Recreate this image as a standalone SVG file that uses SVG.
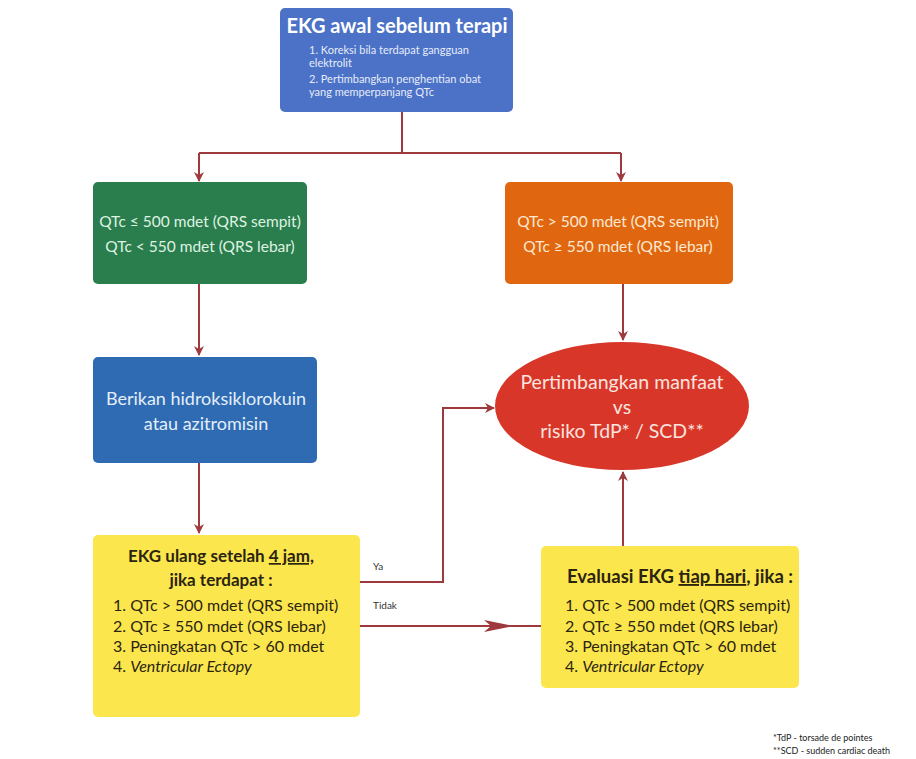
<svg xmlns="http://www.w3.org/2000/svg" width="916" height="759" viewBox="0 0 916 759">
<defs>
<marker id="ah" viewBox="0 0 10 10" refX="9" refY="5" markerWidth="5" markerHeight="5" orient="auto" markerUnits="strokeWidth">
<path d="M0,0 L10,5 L0,10 L3,5 z" fill="#9e3a3e"/>
</marker>
<style>
text{font-family:Lato,"Open Sans","Liberation Sans",sans-serif}
.c{fill:none;stroke:#9e3a3e;stroke-width:2}
.w{fill:#ffffff}
.k{fill:#2b2410}
.b{font-weight:bold}
.u{text-decoration:underline}
</style>
</defs>
<rect width="916" height="759" fill="#ffffff"/>
<g id="connectors">
<path class="c" d="M402,112 V153 M199,153 H621"/>
<path class="c" d="M199,153 V181" marker-end="url(#ah)"/>
<path class="c" d="M621,153 V181" marker-end="url(#ah)"/>
<path class="c" d="M199,284 V355" marker-end="url(#ah)"/>
<path class="c" d="M199,463 V533" marker-end="url(#ah)"/>
<path class="c" d="M623,284 V340" marker-end="url(#ah)"/>
<path class="c" d="M623,546 V472" marker-end="url(#ah)"/>
<path class="c" d="M360,582 H443 V408 H494" marker-end="url(#ah)"/>
<path class="c" d="M360,626 H541"/>
<path d="M484,620 L514,626 L484,632 L491,626 z" fill="#9e3a3e"/>
<text x="373" y="570" font-size="10" fill="#333">Ya</text>
<text x="373" y="609" font-size="10" fill="#333">Tidak</text>
</g>
<g id="n-start">
<rect x="280" y="8" width="233" height="104" rx="5" fill="#4b72c6"/>
<text x="397" y="33" font-size="20" text-anchor="middle" class="w b">EKG awal sebelum terapi</text>
<text x="309" y="54" font-size="11" fill="#e6ecfa">1. Koreksi bila terdapat gangguan</text>
<text x="309" y="67" font-size="11" fill="#e6ecfa">elektrolit</text>
<text x="309" y="83" font-size="11" fill="#e6ecfa">2. Pertimbangkan penghentian obat</text>
<text x="309" y="96" font-size="11" fill="#e6ecfa">yang memperpanjang QTc</text>
</g>
<g id="n-green">
<rect x="93" y="182" width="214" height="102" rx="5" fill="#2a7d4c"/>
<text x="200" y="227" font-size="15.5" text-anchor="middle" fill="#dff3e2">QTc ≤ 500 mdet (QRS sempit)</text>
<text x="200" y="252" font-size="15.5" text-anchor="middle" fill="#dff3e2">QTc &lt; 550 mdet (QRS lebar)</text>
</g>
<g id="n-orange">
<rect x="505" y="182" width="228" height="102" rx="5" fill="#e0670f"/>
<text x="618" y="227" font-size="15.5" text-anchor="middle" fill="#fde8d2">QTc &gt; 500 mdet (QRS sempit)</text>
<text x="618" y="252" font-size="15.5" text-anchor="middle" fill="#fde8d2">QTc ≥ 550 mdet (QRS lebar)</text>
</g>
<g id="n-give">
<rect x="93" y="357" width="224" height="106" rx="5" fill="#2f6bb2"/>
<text x="206" y="405" font-size="18" text-anchor="middle" fill="#e4eefa">Berikan hidroksiklorokuin</text>
<text x="206" y="430" font-size="18" text-anchor="middle" fill="#e4eefa">atau azitromisin</text>
</g>
<g id="n-weigh">
<ellipse cx="622" cy="406" rx="127" ry="64" fill="#d9362a"/>
<text x="622" y="389" font-size="19.5" text-anchor="middle" fill="#fbe3df">Pertimbangkan manfaat</text>
<text x="622" y="414" font-size="19.5" text-anchor="middle" fill="#fbe3df">vs</text>
<text x="622" y="438" font-size="19.5" text-anchor="middle" fill="#fbe3df">risiko TdP* / SCD**</text>
</g>
<g id="n-recheck">
<rect x="93" y="535" width="267" height="182" rx="5" fill="#fbe64e"/>
<text x="221" y="562" font-size="17" text-anchor="middle" class="k b">EKG ulang setelah <tspan class="u">4 jam,</tspan></text>
<text x="221" y="586" font-size="17" text-anchor="middle" class="k b">jika terdapat :</text>
<text x="113" y="611" font-size="16" class="k">1. QTc &gt; 500 mdet (QRS sempit)</text>
<text x="113" y="632" font-size="16" class="k">2. QTc ≥ 550 mdet (QRS lebar)</text>
<text x="113" y="652" font-size="16" class="k">3. Peningkatan QTc &gt; 60 mdet</text>
<text x="113" y="672" font-size="16" class="k">4. <tspan font-style="italic">Ventricular Ectopy</tspan></text>
</g>
<g id="n-daily">
<rect x="541" y="546" width="258" height="142" rx="5" fill="#fbe64e"/>
<text x="567" y="583" font-size="18.5" class="k b">Evaluasi EKG <tspan class="u">tiap hari</tspan>, jika :</text>
<text x="565" y="611" font-size="16" class="k">1. QTc &gt; 500 mdet (QRS sempit)</text>
<text x="565" y="632" font-size="16" class="k">2. QTc ≥ 550 mdet (QRS lebar)</text>
<text x="565" y="652" font-size="16" class="k">3. Peningkatan QTc &gt; 60 mdet</text>
<text x="565" y="672" font-size="16" class="k">4. <tspan font-style="italic">Ventricular Ectopy</tspan></text>
</g>
<g id="footnotes">
<text x="773" y="741" font-size="9" fill="#222">*TdP - torsade de pointes</text>
<text x="773" y="754" font-size="9" fill="#222">**SCD - sudden cardiac death</text>
</g>
</svg>
